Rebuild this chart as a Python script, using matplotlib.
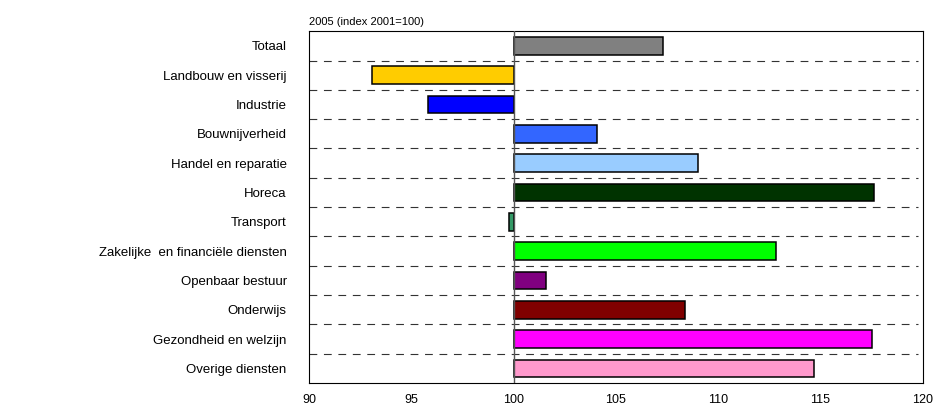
import matplotlib
matplotlib.use('Agg')
import matplotlib.pyplot as plt

# Data (index 2001=100)
categories = ['Totaal', 'Landbouw en visserij', 'Industrie', 'Bouwnijverheid',
              'Handel en reparatie', 'Horeca', 'Transport',
              'Zakelijke  en financiële diensten', 'Openbaar bestuur',
              'Onderwijs', 'Gezondheid en welzijn', 'Overige diensten']
values = [107.3, 93.1, 95.8, 104.1, 109.0, 117.6, 99.8, 112.8, 101.6, 108.4, 117.5, 114.7]
colors = ['#808080', '#FFCC00', '#0000FF', '#3366FF', '#99CCFF', '#003300',
          '#339966', '#00FF00', '#800080', '#800000', '#FF00FF', '#FF99CC']
x_ticks = [90, 95, 100, 105, 110, 115, 120]
base = 100

plt.rcParams['font.family'] = ['Liberation Sans', 'DejaVu Sans']

fig = plt.figure(figsize=(9.36, 4.05), dpi=100)
ax = fig.add_axes([0.330, 0.0543, 0.656, 0.8687])

n = len(categories)
ypos = list(range(n))
widths = [v - base for v in values]
ax.barh(ypos, widths, left=base, height=0.6, color=colors,
        edgecolor='black', linewidth=1.1, zorder=3)

# dashed separators between categories
for i in range(n - 1):
    ax.hlines(i + 0.5, 90, 119.75, colors='#333333', linewidth=0.8,
              linestyles=(0, (7, 6)), zorder=2)
ax.axvline(base, color='#555555', linewidth=1.0, zorder=4)

ax.set_xlim(90, 120)
ax.set_ylim(n - 0.5, -0.5)
ax.set_xticks(x_ticks)
ax.set_xticklabels([str(t) for t in x_ticks], fontsize=9)
ax.set_yticks(ypos)
ax.set_yticklabels(categories, fontsize=9.5)
ax.tick_params(axis='both', length=0)
ax.tick_params(axis='y', pad=16)
ax.tick_params(axis='x', pad=8)
for s in ax.spines.values():
    s.set_linewidth(0.8)
    s.set_color('black')

ax.text(0.0, 1.012, '2005 (index 2001=100)', transform=ax.transAxes,
        fontsize=8, ha='left', va='bottom')

fig.savefig('out.png', dpi=100)
